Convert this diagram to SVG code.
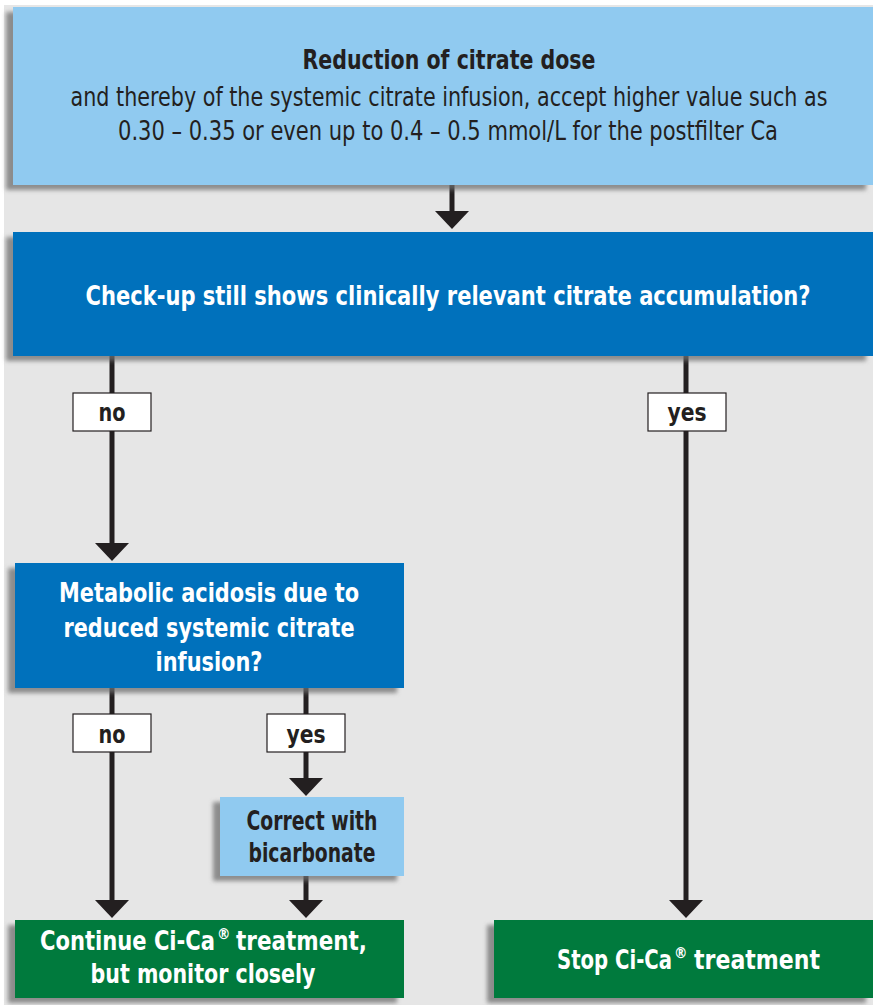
<svg xmlns="http://www.w3.org/2000/svg" width="873" height="1005" viewBox="0 0 873 1005">
<defs>
<style>
.t{font-family:"Liberation Sans Narrow","DejaVu Sans Condensed","Liberation Sans",sans-serif;text-anchor:middle}
.s{font-family:"Liberation Sans Narrow","DejaVu Sans Condensed","Liberation Sans",sans-serif;text-anchor:start}
.b{font-weight:bold}
.w{fill:#ffffff}
.k{fill:#231f20}
.lb{fill:#90caf0}
.db{fill:#0071bc}
.gr{fill:#047a3d}
.lab{fill:#ffffff;stroke:#231f20;stroke-width:1.2}
.ln{stroke:#231f20;stroke-width:5;fill:none}
.ah{fill:#231f20}
</style>
<filter id="sh" x="-10%" y="-10%" width="120%" height="130%">
<feDropShadow dx="-7" dy="5" stdDeviation="2" flood-color="#6e6e6e" flood-opacity="0.75"/>
</filter>
</defs>
<rect x="0" y="0" width="873" height="1005" fill="#ffffff"/>
<rect x="4" y="5" width="869" height="1000" fill="#e6e6e6"/>

<g id="connectors">
<line class="ln" x1="452" y1="185" x2="452" y2="212"/>
<polygon class="ah" points="435,211 469,211 452,229"/>
<line class="ln" x1="112" y1="356" x2="112" y2="545"/>
<polygon class="ah" points="95,543 129,543 112,561"/>
<line class="ln" x1="686" y1="356" x2="686" y2="902"/>
<polygon class="ah" points="669,900 703,900 686,918"/>
<line class="ln" x1="112" y1="688" x2="112" y2="902"/>
<polygon class="ah" points="95,900 129,900 112,918"/>
<line class="ln" x1="306" y1="688" x2="306" y2="780"/>
<polygon class="ah" points="289,778 323,778 306,796"/>
<line class="ln" x1="306" y1="876" x2="306" y2="902"/>
<polygon class="ah" points="289,900 323,900 306,918"/>
<g id="label-no-1"><rect class="lab" x="73" y="393" width="78" height="38"/><text class="t b k" x="112" y="421" font-size="24" textLength="27" lengthAdjust="spacingAndGlyphs">no</text></g>
<g id="label-yes-1"><rect class="lab" x="648" y="393" width="78" height="38"/><text class="t b k" x="687" y="421" font-size="24" textLength="39" lengthAdjust="spacingAndGlyphs">yes</text></g>
<g id="label-no-2"><rect class="lab" x="73" y="714" width="78" height="38"/><text class="t b k" x="112" y="743" font-size="24" textLength="27" lengthAdjust="spacingAndGlyphs">no</text></g>
<g id="label-yes-2"><rect class="lab" x="267" y="714" width="78" height="38"/><text class="t b k" x="306" y="743" font-size="24" textLength="39" lengthAdjust="spacingAndGlyphs">yes</text></g>
</g>

<g id="node-reduction">
<rect class="lb" x="13" y="7" width="860" height="178" filter="url(#sh)"/>
<text class="t b k" x="449" y="69" font-size="26" textLength="293" lengthAdjust="spacingAndGlyphs">Reduction of citrate dose</text>
<text class="t k" transform="translate(449,106) scale(1,1.3)" x="0" y="0" font-size="20" textLength="757" lengthAdjust="spacingAndGlyphs">and thereby of the systemic citrate infusion, accept higher value such as</text>
<text class="t k" transform="translate(448,140) scale(1,1.3)" x="0" y="0" font-size="20" textLength="660" lengthAdjust="spacingAndGlyphs">0.30 – 0.35 or even up to 0.4 – 0.5 mmol/L for the postfilter Ca</text>
</g>

<g id="node-checkup">
<rect class="db" x="13" y="232" width="860" height="124" filter="url(#sh)"/>
<text class="t b w" transform="translate(448,305) scale(1,1.3)" x="0" y="0" font-size="21" textLength="725" lengthAdjust="spacingAndGlyphs">Check-up still shows clinically relevant citrate accumulation?</text>
</g>

<g id="node-metabolic">
<rect class="db" x="15" y="563" width="389" height="125" filter="url(#sh)"/>
<text class="t b w" x="209" y="602" font-size="27" textLength="300" lengthAdjust="spacingAndGlyphs">Metabolic acidosis due to</text>
<text class="t b w" x="209" y="637" font-size="27" textLength="291" lengthAdjust="spacingAndGlyphs">reduced systemic citrate</text>
<text class="t b w" x="209" y="671" font-size="27" textLength="107" lengthAdjust="spacingAndGlyphs">infusion?</text>
</g>

<g id="node-correct">
<rect class="lb" x="220" y="797" width="184" height="79" filter="url(#sh)"/>
<text class="t b k" x="312" y="830" font-size="26" textLength="131" lengthAdjust="spacingAndGlyphs">Correct with</text>
<text class="t b k" x="312" y="862" font-size="26" textLength="127" lengthAdjust="spacingAndGlyphs">bicarbonate</text>
</g>

<g id="node-continue">
<rect class="gr" x="15" y="920" width="389" height="78" filter="url(#sh)"/>
<text class="s b w" transform="translate(40,950) scale(1,1.2)" x="0" y="0" font-size="21.5" textLength="175" lengthAdjust="spacingAndGlyphs">Continue Ci-Ca</text>
<text class="s b w" x="217" y="939" font-size="15">®</text>
<text class="s b w" x="236" y="950" font-size="26" textLength="131" lengthAdjust="spacingAndGlyphs">treatment,</text>
<text class="t b w" x="203" y="983" font-size="26" textLength="225" lengthAdjust="spacingAndGlyphs">but monitor closely</text>
</g>

<g id="node-stop">
<rect class="gr" x="494" y="920" width="379" height="78" filter="url(#sh)"/>
<text class="s b w" transform="translate(557,969) scale(1,1.24)" x="0" y="0" font-size="21" textLength="115" lengthAdjust="spacingAndGlyphs">Stop Ci-Ca</text>
<text class="s b w" x="674" y="958" font-size="15">®</text>
<text class="s b w" x="694" y="969" font-size="26" textLength="126" lengthAdjust="spacingAndGlyphs">treatment</text>
</g>
</svg>
